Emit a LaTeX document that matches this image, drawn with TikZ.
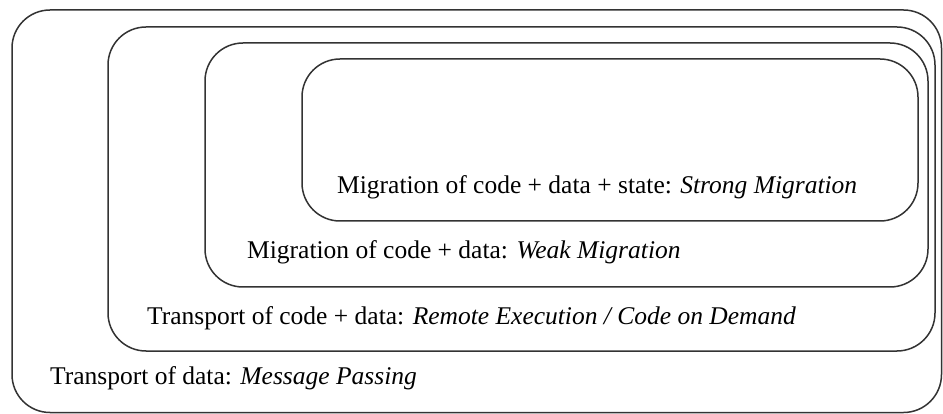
\documentclass[tikz,border=0pt]{standalone}
\usepackage{fontspec}
\setmainfont{Liberation Serif}
\begin{document}
\begin{tikzpicture}[x=1pt,y=-1pt,
  layer/.style={draw=black!80,line width=1.5pt,rounded corners=38pt},
  lbl/.style={anchor=base west,inner sep=0pt,font=\fontsize{25.5}{28}\selectfont}]
\useasboundingbox (0,0) rectangle (943,414);
\draw[layer] (12,10) rectangle (941.5,412.5);
\draw[layer] (108,27) rectangle (935,351);
\draw[layer] (205,43) rectangle (928,287);
\draw[layer] (302,59) rectangle (918,221);
\node[lbl] (t4) at (337,194) {Migration of code + data + state: \textit{Strong Migration}};
\node[lbl] (t3) at (247,259) {Migration of code + data: \textit{Weak Migration}};
\node[lbl] (t2) at (147,324) {Transport of code + data: \textit{Remote Execution / Code on Demand}};
\node[lbl] (t1) at (50,384) {Transport of data: \textit{Message Passing}};
\end{tikzpicture}
\end{document}
